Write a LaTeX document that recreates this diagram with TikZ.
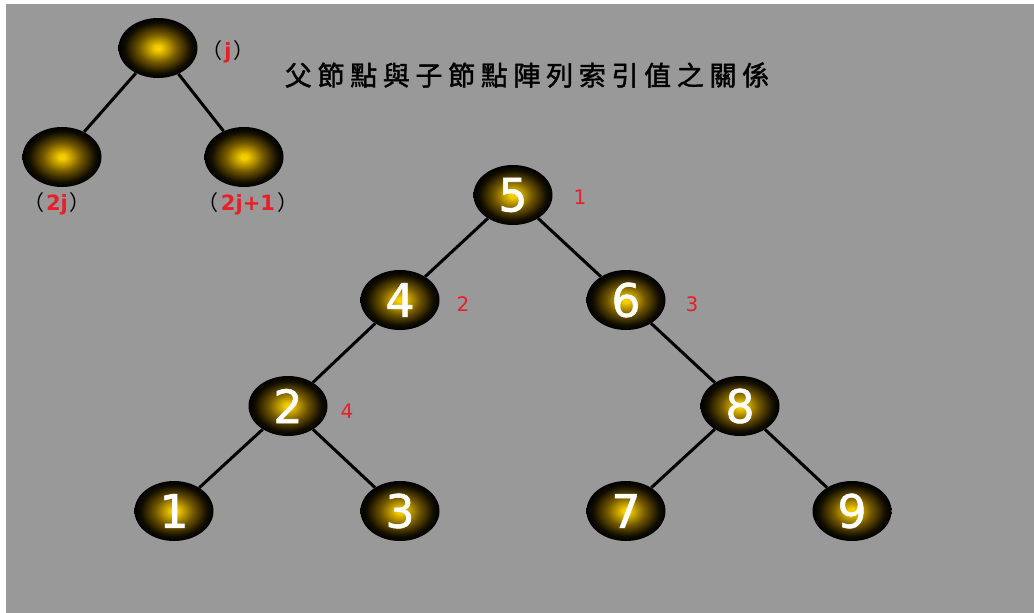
\documentclass[tikz,border=0pt]{standalone}
\usepackage{fontspec}
\setmainfont{DejaVu Sans}
\newfontfamily\cjk{Noto Sans CJK TC}
\usepackage{tikz}
\usetikzlibrary{shapes.geometric}

\definecolor{bggray}{RGB}{153,153,153}
\definecolor{ballcore}{RGB}{245,205,0}
\definecolor{ballmid}{RGB}{115,88,0}
\definecolor{idxred}{RGB}{232,30,40}
\pgfdeclareradialshading{ballshade}{\pgfpoint{0bp}{0bp}}{%
  color(0bp)=(ballcore); color(2bp)=(ballcore); color(12bp)=(ballmid);
  color(21bp)=(black!85!ballmid); color(25bp)=(black); color(50bp)=(black)}

\tikzset{
  ball/.style={ellipse,minimum width=79pt,minimum height=60pt,inner sep=0pt,
    shading=ballshade,text=white,font=\fontsize{46}{46}\selectfont\addfontfeature{FakeBold=1.2}},
  idx/.style={text=idxred,font=\fontsize{20}{20}\selectfont},
  formula/.style={font=\fontsize{21}{21}\selectfont},
  branch/.style={line width=3pt,black}
}

\begin{document}
\begin{tikzpicture}[x=1pt,y=-1pt]
  \useasboundingbox (0,0) rectangle (1034,613);
  \fill[white] (0,0) rectangle (1034,613);
  \fill[bggray] (6,4) rectangle (1034,613);

  % the rule for parent and child positions
  \node[ball] (pj) at (158,48) {};
  \node[ball] (pl) at (62,157) {};
  \node[ball] (pr) at (244,157) {};
  \draw[branch] (pj) -- (pl);
  \draw[branch] (pj) -- (pr);
  \newcommand{\paren}[1]{{\cjk （}\hspace{2pt}\textcolor{idxred}{\bfseries #1}\hspace{2pt}{\cjk ）}}
  \node[formula] (lj) at (228,52) {\paren{j}};
  \node[formula] (l2j) at (57,204) {\paren{2j}};
  \node[formula] (l2j1) at (248,204) {\paren{2j+1}};
  \node[font=\cjk\fontsize{27}{30}\selectfont\addfontfeature{LetterSpace=21,FakeBold=1.5}] (title) at (527,75)
    {父節點與子節點陣列索引值之關係};

  % the heap: value inside, array index beside
  \foreach \name/\x/\y/\val in {n5/513/195/5, n4/400/300/4, n6/626/300/6,
      n2/288/406/2, n8/740/406/8, n1/174/511/1, n3/400/511/3,
      n7/626/511/7, n9/852/511/9}
    \node[ball] (\name) at (\x,\y) {\val};
  \foreach \a/\b in {n5/n4, n5/n6, n4/n2, n6/n8, n2/n1, n2/n3, n8/n7, n8/n9}
    \draw[branch] (\a) -- (\b);
  \node[idx] (i1) at (580,197) {1};
  \node[idx] (i2) at (463,304) {2};
  \node[idx] (i3) at (692,304) {3};
  \node[idx] (i4) at (347,411) {4};
\end{tikzpicture}
\end{document}
